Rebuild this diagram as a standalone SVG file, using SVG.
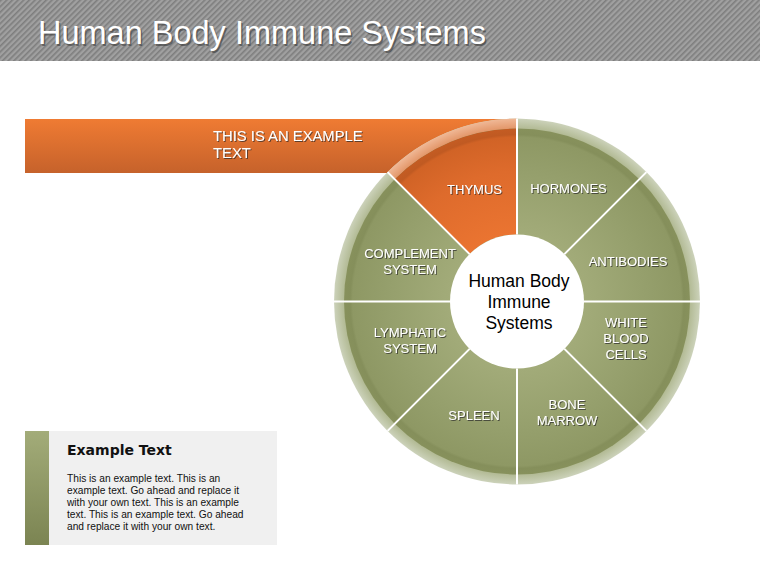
<svg xmlns="http://www.w3.org/2000/svg" width="760" height="570" viewBox="0 0 760 570">
<style>
.lbl{font-family:"Liberation Sans",Arial,sans-serif;font-size:13px;fill:#ffffff;text-anchor:middle;filter:url(#sh)}
.ctr{font-family:"Liberation Sans",Arial,sans-serif;font-size:17.5px;fill:#000000;text-anchor:middle}
.div{stroke:#ffffff;stroke-width:2;fill:none}
.body{font-family:"Liberation Sans",Arial,sans-serif;font-size:10.2px;fill:#111111}
</style>
<defs>
<pattern id="stripes" width="4" height="4" patternUnits="userSpaceOnUse" patternTransform="rotate(45)">
<rect width="4" height="4" fill="#a0a0a0"/>
<rect width="1.6" height="4" fill="#7e7e7e"/>
</pattern>
<linearGradient id="barG" x1="0" y1="0" x2="0" y2="1">
<stop offset="0" stop-color="#ef7b33"/>
<stop offset="1" stop-color="#c6622b"/>
</linearGradient>
<radialGradient id="greenG" gradientUnits="userSpaceOnUse" cx="517" cy="301.5" r="173">
<stop offset="0.39" stop-color="#a2ab79"/>
<stop offset="0.75" stop-color="#959f6c"/>
<stop offset="0.95" stop-color="#8e9864"/>
<stop offset="0.965" stop-color="#858f5b"/>
<stop offset="1" stop-color="#87915c"/>
</radialGradient>
<radialGradient id="orangeG" gradientUnits="userSpaceOnUse" cx="517" cy="301.5" r="173">
<stop offset="0.39" stop-color="#ea7431"/>
<stop offset="0.75" stop-color="#de6b2c"/>
<stop offset="0.95" stop-color="#d16326"/>
<stop offset="0.965" stop-color="#c05a22"/>
<stop offset="1" stop-color="#c45c23"/>
</radialGradient>
<radialGradient id="ringG" gradientUnits="userSpaceOnUse" cx="517" cy="301.5" r="183">
<stop offset="0.945" stop-color="#b2ba94"/>
<stop offset="1" stop-color="#ccd2ba"/>
</radialGradient>
<radialGradient id="ringO" gradientUnits="userSpaceOnUse" cx="517" cy="301.5" r="183">
<stop offset="0.945" stop-color="#e3976a"/>
<stop offset="1" stop-color="#f0b896"/>
</radialGradient>
<linearGradient id="sideG" x1="0" y1="0" x2="0" y2="1">
<stop offset="0" stop-color="#a3ac79"/>
<stop offset="1" stop-color="#7b8452"/>
</linearGradient>
<filter id="sh" x="-20%" y="-30%" width="140%" height="160%">
<feDropShadow dx="1" dy="1" stdDeviation="0.6" flood-color="#2a2a2a" flood-opacity="0.7"/>
</filter>
</defs>

<g id="title">
<rect x="0" y="0" width="760" height="61" fill="url(#stripes)"/>
<text x="39.5" y="45.5" font-family="Liberation Sans, Arial, sans-serif" font-size="32.5" fill="#3a3a3a" fill-opacity="0.6">Human Body Immune Systems</text>
<text x="38" y="44" font-family="Liberation Sans, Arial, sans-serif" font-size="32.5" fill="#ffffff">Human Body Immune Systems</text>
</g>

<g id="banner">
<rect x="25" y="119" width="492" height="54" fill="url(#barG)"/>
<text x="213" y="141" font-family="Liberation Sans, Arial, sans-serif" font-size="14.8" fill="#ffffff" filter="url(#sh)">THIS IS AN EXAMPLE</text>
<text x="213" y="158" font-family="Liberation Sans, Arial, sans-serif" font-size="14.8" fill="#ffffff" filter="url(#sh)">TEXT</text>
</g>

<g id="wheel">
<circle cx="517" cy="301.5" r="183" fill="url(#ringG)"/>
<circle cx="517" cy="301.5" r="173" fill="url(#greenG)"/>
<path d="M517,118.5 A183,183 0 0 0 387.6,172.1 L394.67,179.17 A173,173 0 0 1 517,128.5 Z" fill="url(#ringO)"/>
<path d="M517,128.5 A173,173 0 0 0 394.67,179.17 L469.62,254.12 A67,67 0 0 1 517,234.5 Z" fill="url(#orangeG)"/>
</g>

<g id="connectors">
<line class="div" x1="517" y1="118.5" x2="517" y2="234.5"/>
<line class="div" x1="517" y1="368.5" x2="517" y2="484.5"/>
<line class="div" x1="334" y1="301.5" x2="450" y2="301.5"/>
<line class="div" x1="584" y1="301.5" x2="700" y2="301.5"/>
<line class="div" x1="564.4" y1="254.1" x2="646.4" y2="172.1"/>
<line class="div" x1="469.6" y1="254.1" x2="387.6" y2="172.1"/>
<line class="div" x1="469.6" y1="348.9" x2="387.6" y2="430.9"/>
<line class="div" x1="564.4" y1="348.9" x2="646.4" y2="430.9"/>
</g>

<g id="center">
<circle cx="517" cy="301.5" r="67" fill="#ffffff"/>
<text class="ctr" x="519" y="287">Human Body</text>
<text class="ctr" x="519" y="308">Immune</text>
<text class="ctr" x="519" y="329">Systems</text>
</g>

<g id="thymus"><text class="lbl" x="474.5" y="194">THYMUS</text></g>
<g id="hormones"><text class="lbl" x="568.5" y="193">HORMONES</text></g>
<g id="antibodies"><text class="lbl" x="628" y="265.5">ANTIBODIES</text></g>
<g id="white-blood-cells">
<text class="lbl" x="626" y="327">WHITE</text>
<text class="lbl" x="626" y="343">BLOOD</text>
<text class="lbl" x="626" y="359">CELLS</text>
</g>
<g id="bone-marrow">
<text class="lbl" x="567" y="409">BONE</text>
<text class="lbl" x="567" y="424.5">MARROW</text>
</g>
<g id="spleen"><text class="lbl" x="474" y="420">SPLEEN</text></g>
<g id="lymphatic-system">
<text class="lbl" x="410" y="337">LYMPHATIC</text>
<text class="lbl" x="410" y="353">SYSTEM</text>
</g>
<g id="complement-system">
<text class="lbl" x="410" y="258">COMPLEMENT</text>
<text class="lbl" x="410" y="274">SYSTEM</text>
</g>

<g id="example-box">
<rect x="48" y="431" width="229" height="114" fill="#f0f0f0"/>
<rect x="25" y="431" width="24" height="114" fill="url(#sideG)"/>
<text x="67" y="455" font-family="DejaVu Sans, Verdana, sans-serif" font-size="14" font-weight="bold" fill="#111111">Example Text</text>
<text class="body" x="67" y="482">This is an example text. This is an</text>
<text class="body" x="67" y="494">example text. Go ahead and replace it</text>
<text class="body" x="67" y="506">with your own text. This is an example</text>
<text class="body" x="67" y="518">text. This is an example text. Go ahead</text>
<text class="body" x="67" y="530">and replace it with your own text.</text>
</g>
</svg>
